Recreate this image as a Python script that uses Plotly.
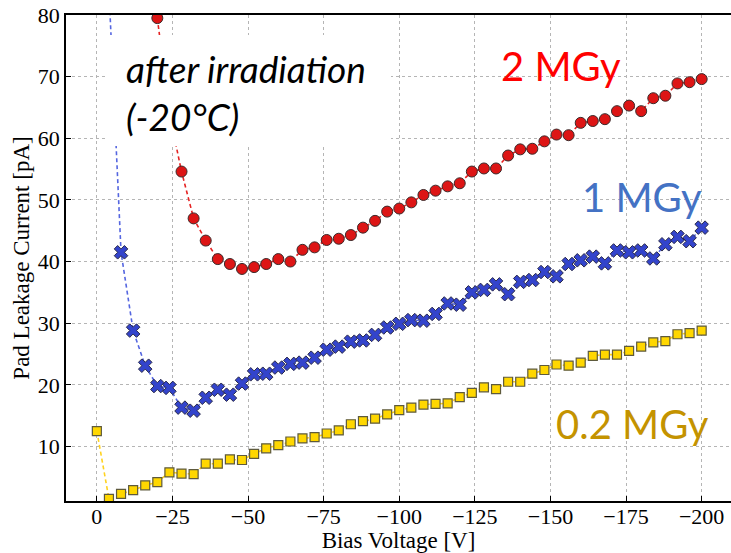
import plotly.graph_objects as go

# ---------------- data ----------------
v_02 = [0, -4, -8, -12, -16, -20, -24, -28, -32, -36, -40, -44, -48, -52, -56, -60, -64, -68,
        -72, -76, -80, -84, -88, -92, -96, -100, -104, -108, -112, -116, -120, -124, -128,
        -132, -136, -140, -144, -148, -152, -156, -160, -164, -168, -172, -176, -180, -184,
        -188, -192, -196, -200]
i_02 = [12.5, 1.5, 2.3, 2.9, 3.7, 4.2, 5.8, 5.6, 5.5, 7.2, 7.2, 7.9, 7.8, 8.8, 9.7, 10.2, 10.8,
        11.3, 11.5, 12.1, 12.6, 13.6, 14.1, 14.5, 15.2, 15.9, 16.3, 16.8, 16.9, 17.0, 18.0, 18.7,
        19.6, 19.3, 20.5, 20.5, 21.8, 22.4, 23.3, 23.1, 23.6, 24.7, 24.9, 24.9, 25.5, 26.2, 26.9,
        27.1, 28.2, 28.4, 28.8]

v_1 = [-4, -8, -12, -16, -20, -24, -28, -32, -36, -40, -44, -48, -52, -56, -60, -64, -68, -72,
       -76, -80, -84, -88, -92, -96, -100, -104, -108, -112, -116, -120, -124, -128, -132, -136,
       -140, -144, -148, -152, -156, -160, -164, -168, -172, -176, -180, -184, -188, -192, -196,
       -200]
i_1 = [84.0, 41.5, 28.8, 23.1, 19.8, 19.5, 16.3, 15.8, 17.9, 19.2, 18.4, 20.2, 21.7, 21.8, 22.8,
       23.4, 23.6, 24.4, 25.7, 26.2, 27.0, 27.2, 28.1, 29.3, 29.9, 30.5, 30.4, 31.5, 33.2, 33.0,
       35.0, 35.4, 36.3, 34.7, 36.7, 37.0, 38.3, 37.6, 39.6, 40.2, 40.8, 39.7, 41.8, 41.5, 41.8,
       40.5, 42.8, 44.0, 43.3, 45.5]

v_2 = [-20, -24, -28, -32, -36, -40, -44, -48, -52, -56, -60, -64, -68, -72, -76, -80, -84, -88,
       -92, -96, -100, -104, -108, -112, -116, -120, -124, -128, -132, -136, -140, -144, -148,
       -152, -156, -160, -164, -168, -172, -176, -180, -184, -188, -192, -196, -200]
i_2 = [79.5, 64.0, 54.6, 47.0, 43.4, 40.4, 39.6, 38.8, 39.1, 39.6, 40.4, 40.0, 41.9, 42.3, 43.5,
       43.7, 44.3, 45.5, 46.6, 48.1, 48.6, 49.6, 50.8, 51.5, 52.2, 52.7, 54.6, 55.1, 55.1, 57.2,
       58.2, 58.3, 59.5, 60.6, 60.5, 62.5, 62.8, 63.1, 64.4, 65.3, 64.4, 66.5, 66.9, 68.9, 69.1,
       69.6]

x_ticks = [0, -25, -50, -75, -100, -125, -150, -175, -200]
y_ticks = [10, 20, 30, 40, 50, 60, 70, 80]

# ---------------- layout geometry ----------------
W, H = 731, 553
ML, MR, MT, MB = 66, 0, 15, 52
PW, PH = W - ML - MR, H - MT - MB


def px(x):
    return (x - ML) / PW


def py(y):
    return 1 - (y - MT) / PH


fig = go.Figure()

fig.add_trace(go.Scatter(
    x=v_02, y=i_02, mode="lines+markers",
    line=dict(color="#ffd21f", width=1.6, dash="4px,3px"),
    marker=dict(symbol="square", size=9, color="#ffd700",
                line=dict(color="#5e5a3c", width=1.2)),
))
fig.add_trace(go.Scatter(
    x=v_1, y=i_1, mode="lines+markers",
    line=dict(color="#5566e0", width=1.6, dash="4px,3px"),
    marker=dict(symbol="x", size=12, color="#3344cc",
                line=dict(color="#2a2a4a", width=1)),
))
fig.add_trace(go.Scatter(
    x=v_2, y=i_2, mode="lines+markers",
    line=dict(color="#e52222", width=1.6, dash="4px,3px"),
    marker=dict(symbol="circle", size=11, color="#dd1515",
                line=dict(color="#3a2a2a", width=1)),
))

# white box behind the label text
fig.add_shape(type="rect", xref="paper", yref="paper",
              x0=px(107), x1=px(391), y0=py(146), y1=py(35),
              fillcolor="white", line=dict(width=0), layer="above")

ann_font = "Lato, 'Open Sans', sans-serif"
fig.add_annotation(xref="paper", yref="paper", x=px(124), y=py(92),
                   xanchor="left", yanchor="middle", align="left", showarrow=False,
                   text="<i>after irradiation</i><br><i>(-20°C)</i>",
                   font=dict(family=ann_font, size=37, color="black"))
fig.add_annotation(xref="paper", yref="paper", x=px(561), y=py(66),
                   xanchor="center", yanchor="middle", showarrow=False,
                   text="2 MGy", font=dict(family=ann_font, size=40, color="#ff0000"))
fig.add_annotation(xref="paper", yref="paper", x=px(642), y=py(197),
                   xanchor="center", yanchor="middle", showarrow=False,
                   text="1 MGy", font=dict(family=ann_font, size=40, color="#4472c4"))
fig.add_annotation(xref="paper", yref="paper", x=px(632), y=py(424),
                   xanchor="center", yanchor="middle", showarrow=False,
                   text="0.2 MGy", font=dict(family=ann_font, size=40, color="#c49300"))

serif = "'Liberation Serif', 'DejaVu Serif', serif"
axis_common = dict(
    showline=True, linecolor="black", linewidth=1.5, mirror=True,
    ticks="inside", ticklen=5, tickwidth=1.2, tickcolor="black",
    showgrid=True, gridcolor="#b5b5b5", gridwidth=1, griddash="dot",
    zeroline=False, tickfont=dict(family=serif, size=22, color="black"),
)

fig.update_xaxes(range=[10.2, -209.7], tickvals=x_ticks, ticklabelstandoff=-5,
                 title=dict(text="Bias Voltage [V]", font=dict(family=serif, size=23, color="black"),
                            standoff=2),
                 **axis_common)
fig.update_yaxes(range=[1.15, 80], tickvals=y_ticks,
                 title=dict(text="Pad Leakage Current [pA]", font=dict(family=serif, size=23, color="black"),
                            standoff=2),
                 **axis_common)

fig.update_layout(
    width=W, height=H,
    margin=dict(l=ML, r=MR, t=MT, b=MB, autoexpand=False),
    paper_bgcolor="white", plot_bgcolor="white",
    showlegend=False,
)

fig.write_html("out.html")
